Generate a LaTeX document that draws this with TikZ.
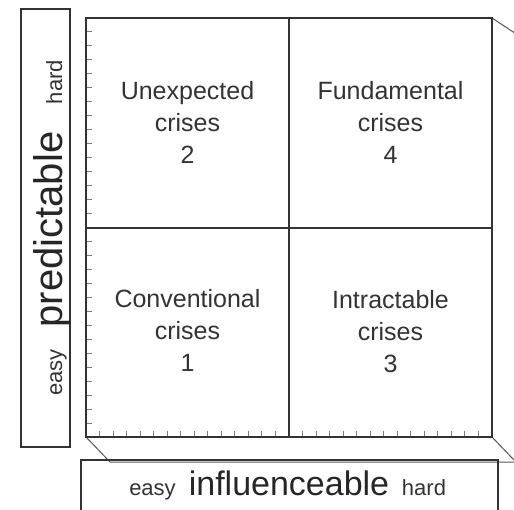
\documentclass[tikz,border=0pt]{standalone}
\usepackage{fontspec}
\setmainfont{Liberation Sans}
\definecolor{ink}{HTML}{333333}
\definecolor{tickc}{HTML}{808080}
\definecolor{persp}{HTML}{555555}
\begin{document}
\begin{tikzpicture}[x=1pt,y=-1pt,
  frame/.style={draw=ink,line width=1.4pt},
  mid/.style={draw=ink,line width=1.3pt},
  tickline/.style={draw=tickc,line width=1pt},
  perspline/.style={draw=persp,line width=1pt},
  quad/.style={text=ink,align=center,inner sep=0pt,anchor=base,font=\fontsize{25}{32}\selectfont},
  small/.style={text=ink,inner sep=0pt,anchor=base,font=\fontsize{22}{26}\selectfont},
  bigv/.style={text=black!85,inner sep=0pt,anchor=base,font=\fontsize{40}{46}\selectfont},
  bigh/.style={text=black!85,inner sep=0pt,anchor=base,font=\fontsize{34}{40}\selectfont}]
\useasboundingbox (0,0) rectangle (514,509);
\clip (0,0) rectangle (514,509);
% corners
\coordinate (tl) at (86,18);
\coordinate (tr) at (492,18);
\coordinate (bl) at (86,437);
\coordinate (br) at (492,437);
\coordinate (tm) at (289,18);
\coordinate (bm) at (289,437);
\coordinate (lm) at (86,228);
\coordinate (rm) at (492,228);
% perspective ends
\coordinate (trx) at (514,32.5);
\coordinate (brx) at (514,460);
\coordinate (blx) at (110,462);
\coordinate (frx) at (514,462);
% perspective lines
\draw[perspline] (tr) -- (trx);
\draw[perspline] (br) -- (brx);
\draw[perspline] (bl) -- (blx) -- (frx);
% ticks
\foreach \k in {1,...,14,16,17,...,29}{
  \draw[tickline] (86,{18+\k*419/30}) -- (92,{18+\k*419/30});
  \draw[tickline] ({86+\k*406/30},437) -- ({86+\k*406/30},431);
}
% main square
\draw[frame] (tl) rectangle (br);
\draw[mid] (tm) -- (bm);
\draw[mid] (lm) -- (rm);
% quadrant texts (anchor = baseline of last line)
\node[quad] (q2) at (187.5,163) {Unexpected\\crises\\2};
\node[quad] (q4) at (390.5,163) {Fundamental\\crises\\4};
\node[quad] (q1) at (187.5,371.5) {Conventional\\crises\\1};
\node[quad] (q3) at (390.5,372) {Intractable\\crises\\3};
% left label box
\draw[frame] (21,9) rectangle (70,447);
\node[small,rotate=90] (lhard) at (62,82) {hard};
\node[bigv,rotate=90] (lpred) at (62,229.5) {predictable};
\node[small,rotate=90] (leasy) at (62,372.5) {easy};
% bottom label box
\draw[frame] (81,460) rectangle (498,520);
\node[small] (beasy) at (152.5,495) {easy};
\node[bigh] (binf) at (289,495) {influenceable};
\node[small] (bhard) at (424,495) {hard};
\end{tikzpicture}
\end{document}
